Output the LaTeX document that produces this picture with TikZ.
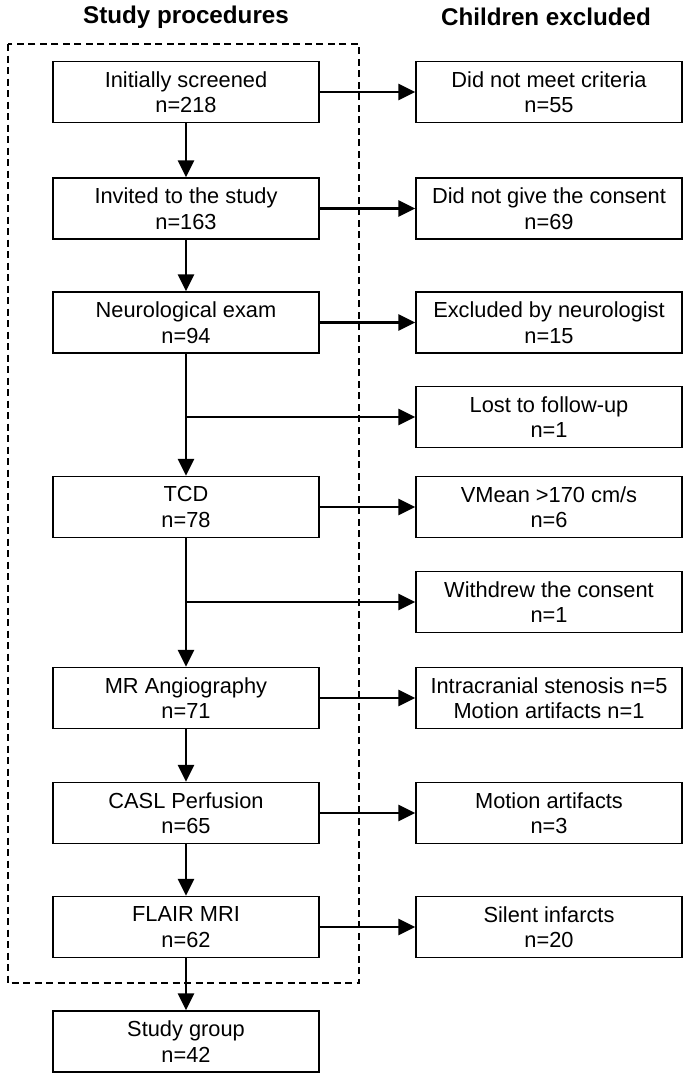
\documentclass[tikz,border=0pt]{standalone}
\usepackage{fontspec}
\setmainfont{Liberation Sans}
\usetikzlibrary{arrows.meta}
\tikzset{
  box/.style={draw=black, line width=1.5pt, minimum width=266pt, minimum height=61pt,
    inner sep=0pt, align=center, font=\fontsize{21.8}{25.5}\selectfont},
  title/.style={font=\fontsize{24.2}{28}\selectfont\bfseries, inner sep=0pt},
  arr/.style={line width=2.8pt, -{Triangle[length=17pt,width=16pt]}},
  frame/.style={line width=2pt, dash pattern=on 7pt off 4.5pt}
}
\begin{document}
\begin{tikzpicture}[x=1pt,y=-1pt]
\useasboundingbox (0,0) rectangle (684,1074);
\node[title] (t1) at (186,17) {Study procedures};
\node[title] (t2) at (546,17) {Children excluded};
\draw[frame] (7.5,44) rectangle (359,983);
% left column
\node[box] (b1) at (186,92) {Initially screened\\n=218};
\node[box] (b2) at (186,208.5) {Invited to the study\\n=163};
\node[box] (b3) at (186,322.5) {Neurological exam\\n=94};
\node[box] (b4) at (186,507) {TCD\\n=78};
\node[box] (b5) at (186,698) {MR Angiography\\n=71};
\node[box] (b6) at (186,813) {CASL Perfusion\\n=65};
\node[box] (b7) at (186,927) {FLAIR MRI\\n=62};
\node[box] (b8) at (186,1041.5) {Study group\\n=42};
% right column
\node[box] (r1) at (549,92) {Did not meet criteria\\n=55};
\node[box] (r2) at (549,208.5) {Did not give the consent\\n=69};
\node[box] (r3) at (549,322.5) {Excluded by neurologist\\n=15};
\node[box] (r4) at (549,417) {Lost to follow-up\\n=1};
\node[box] (r5) at (549,507) {VMean >170 cm/s\\n=6};
\node[box] (r6) at (549,602) {Withdrew the consent\\n=1};
\node[box] (r7) at (549,698) {Intracranial stenosis n=5\\Motion artifacts n=1};
\node[box] (r8) at (549,813) {Motion artifacts\\n=3};
\node[box] (r9) at (549,927) {Silent infarcts\\n=20};
% branch points
\coordinate (j1) at (b3.south |- r4.west);
\coordinate (j2) at (b4.south |- r6.west);
% vertical arrows
\draw[arr] (b1) -- (b2);
\draw[arr] (b2) -- (b3);
\draw[arr] (b3) -- (b4);
\draw[arr] (b4) -- (b5);
\draw[arr] (b5) -- (b6);
\draw[arr] (b6) -- (b7);
\draw[arr] (b7) -- (b8);
% horizontal arrows
\draw[arr] (b1) -- (r1);
\draw[arr] (b2) -- (r2);
\draw[arr] (b3) -- (r3);
\draw[arr] (j1) -- (r4);
\draw[arr] (b4) -- (r5);
\draw[arr] (j2) -- (r6);
\draw[arr] (b5) -- (r7);
\draw[arr] (b6) -- (r8);
\draw[arr] (b7) -- (r9);
\end{tikzpicture}
\end{document}
